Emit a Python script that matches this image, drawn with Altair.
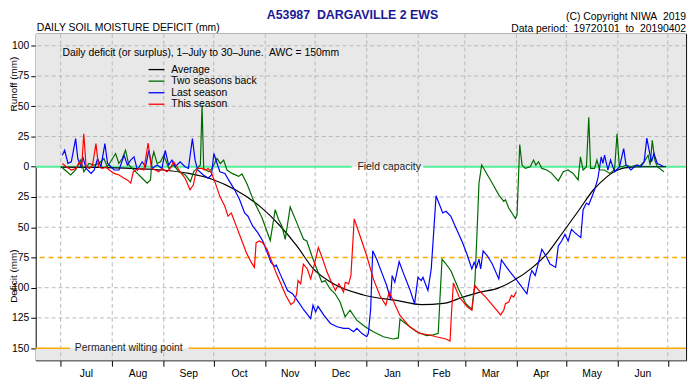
import altair as alt
import pandas as pd

FONT = "Liberation Sans"

# ---------------- data ----------------
month_names = ["Jul", "Aug", "Sep", "Oct", "Nov", "Dec", "Jan", "Feb", "Mar", "Apr", "May", "Jun"]
month_starts = [0, 31, 62, 92, 123, 153, 184, 215, 243, 274, 304, 335, 365]
month_mids = [15.5, 46.5, 77, 107.5, 138, 168.5, 199.5, 229, 258.5, 289, 319.5, 350]
y_ticks = [-100, -75, -50, -25, 0, 25, 50, 75, 100, 125, 150]
grid_levels = [-100, -75, -50, -25, 25, 50, 100, 125]

avg_day = [0, 23, 45, 61, 77, 91, 105, 120, 132, 142, 152, 164, 182, 202, 217, 230,
           242, 251, 263, 273, 283, 293, 301, 311, 321, 327, 333, 339, 350, 364]
avg_val = [0.3, 0.5, 1.5, 2.7, 5.5, 10.3, 19, 33, 49, 65.5, 84.5, 96.8, 106, 110.5, 114, 113,
           107.7, 104, 100.3, 93.5, 84, 71, 56, 37, 18, 10, 4, 1, 0, 0]

two_day = [1, 6, 9, 12, 14, 17, 20, 23, 26, 28, 30, 33, 35, 37, 39, 41, 45, 49, 52, 54, 55, 56,
           58, 60, 62, 65, 68, 71, 75, 78, 80, 82, 84, 85, 86, 89, 91, 94, 96, 98, 100, 103, 107,
           109, 112, 116, 121, 126, 129, 131, 133, 135, 138, 142, 146, 148, 151, 154, 157, 159,
           162, 165, 168, 171, 174, 178, 183, 188, 194, 200, 203, 204, 206, 210, 214, 220, 224,
           227, 228, 229.3, 231.7, 234.6, 239.6, 243.6, 247.2, 249.1, 250.6, 251.5, 253.1, 255.5,
           259.5, 263.4, 266.4, 267.4, 269.4, 273.4, 274.4, 276, 277.4, 279.3, 282.3, 284.3, 285.7,
           287.3, 289.3, 292.3, 295.2, 299.2, 302.2, 305.1, 308.1, 311.1, 312.5, 314.1, 316.1,
           317.5, 318.6, 321, 322.4, 324, 327, 330, 333, 334.5, 335.9, 337.9, 339.9, 342.9, 345.9,
           347.8, 350.8, 353.2, 354.4, 355.7, 357.2, 358.7, 362.7]
two_val = [0.8, 6.8, 2.7, -5.5, 4.1, -2.7, -1.4, -2.7, -6.8, 0, -4.1, -10.9, -2.7, -6.8, -13.6,
           -1.4, 4.1, 9.5, 13.6, 10.9, -6.8, -12.3, -2.7, -4.1, -9.5, 1.4, -1.4, 4.1, 6.8, 12.3,
           4.1, 1.4, -1.4, -51, 1.4, 4.1, 1.4, -6.8, -2.7, -5.5, 2.7, 5.5, 8, 6, 14, 28, 42, 61,
           35.5, 43.6, 49, 60, 33.3, 46.4, 60, 61.4, 73.6, 84.5, 95.5, 94, 101, 105, 111.8, 124,
           118.6, 126.8, 132.3, 136.4, 140.5, 142.4, 141.5, 126, 128.2, 132.3, 136.4, 139.6, 139,
           137.7, 110, 76.4, 80.4, 86, 102.3, 113.2, 118, 94, 45, 13.6, -1.4, 4.1, 13.6, 23.2,
           28.6, 27.3, 34.1, 42.8, 39.5, -18.3, -1.4, 1.4, 0, -5.5, -1.4, -4.1, 1.4, 2.7, 5.5,
           11.7, 4.1, 2.7, 5.5, 10.9, -8.2, 2.7, 0, -40.9, 1.4, 1.4, -5.5, 2.7, 2.7, 5.5, 2.7,
           -27.3, 0, 0, -1.4, 0, -1.4, 0, -4.1, -9.5, -1.4, -21.8, -5.5, 0, 4.1]

last_day = [1, 2.4, 4.4, 6.4, 9, 10.3, 12.3, 13.3, 15.3, 18.3, 20.2, 22.2, 24.2, 26.6, 28.2, 30.2,
            32.2, 35.1, 38.1, 40.1, 42.1, 44.1, 46.1, 49, 51, 53, 55, 58, 60.9, 62.9, 64.9, 66.9,
            68.9, 71.8, 74.8, 76.8, 79.2, 80.8, 82.4, 85.8, 88.7, 90.7, 92.1, 93.7, 95.7, 98.7,
            101.6, 104.6, 107.6, 110.6, 112.6, 115.5, 118.5, 121.5, 124.5, 126.4, 128.8, 129.6,
            132.4, 136.4, 139.4, 142.3, 146.3, 150.3, 151.7, 153.3, 154.7, 158.2, 162.2, 166.2,
            170.1, 173.1, 176.1, 178.1, 181, 184, 185, 186.4, 187.6, 190, 193, 196, 198.3, 199.3,
            200.9, 203.5, 205.9, 209.8, 212.8, 214.8, 216.8, 217.8, 220.8, 222.8, 225.7, 229.7,
            231.7, 234.6, 237.6, 241.6, 244.6, 247.2, 248.6, 250, 251.5, 252.5, 254, 256.5, 259.5,
            263.4, 265, 267.4, 270.4, 274.4, 280.3, 282.3, 283.3, 285.3, 289.3, 292.3, 294.2,
            297.6, 299.2, 301.2, 303.2, 305.1, 307.1, 309.1, 312.7, 314.1, 316.1, 317.5, 319.1,
            321, 323, 325, 326, 327, 329, 330.6, 333, 336, 338.5, 339.9, 342.9, 344.9, 346.8,
            348.8, 350.8, 352.4, 353.8, 355.2, 356.7, 358.7, 360.7, 362.7]
last_val = [-9.5, -13.6, -2.7, -4.1, -23.2, -6.8, 0, -8.2, 1.4, 5.5, 2.7, -6.8, 0, -19.1, -2.7, 0,
            2.7, 2.7, -9.5, -1.4, -5.5, -8.2, 2.7, -4.1, 0, -13.6, 1.4, -1.4, 1.4, -13.6, -1.4,
            -5.5, 0, -4.1, 0, 1.4, -23.2, -5.5, 2.7, 6.8, 9.5, 6.8, -10.9, -4.1, 4.1, 5.5, 12.3,
            19.1, 27.3, 38.2, 40.9, 49.1, 54.5, 61.4, 72, 79.1, 82.4, 81.3, 90, 102.3, 105, 110.5,
            118.6, 125.5, 114.5, 120, 115.4, 122.7, 129.5, 132.3, 133.6, 133.6, 136.4, 133.6,
            137.7, 140.5, 137.7, 117.3, 69.5, 76.4, 87.3, 98.2, 109.1, 90, 95.5, 78.5, 87.3, 101,
            113.2, 91.4, 94.1, 91.4, 102.3, 84.5, 24, 38.2, 36.8, 40.9, 50.5, 62.7, 73.6, 84.5,
            79.1, 83.2, 76.4, 84.5, 69.5, 73.6, 80.4, 92.7, 76.9, 81.8, 87.3, 94.1, 105, 90, 85.9,
            90, 68.2, 75, 80.4, 83.2, 65.5, 61.4, 55.9, 61.4, 51.8, 54.5, 58.6, 35.5, 30, 31.4,
            25.9, 19.1, 9.5, -8.2, -2.7, -9.5, 2.7, -5.5, 4.1, 0, -15, -1.4, 2.7, 0, -1.4, 0,
            -4.1, -23.7, -13.6, -4.1, -10.9, -2.7, -1.4, 0]

this_day = [1, 3.4, 6.4, 9.3, 11.3, 12.7, 13.9, 15.3, 17.3, 19.2, 21.2, 22.8, 25.2, 27.2, 29.2,
            32.2, 35.1, 38.1, 40.1, 42.1, 43.7, 45.1, 47.1, 50, 52.6, 54.6, 57, 58.9, 60.9, 63.9,
            65.9, 67.9, 69.9, 71.8, 74.8, 77.8, 79.8, 81.2, 82.4, 84.8, 86.8, 88.7, 90.7, 92.7,
            95.7, 98.7, 100.6, 102.6, 105.6, 108.6, 111.6, 114.6, 116.5, 117.5, 119.5, 121.5, 124,
            126.4, 129.4, 132.4, 135.4, 138.4, 140.3, 141.9, 142.7, 144.3, 145.9, 148.3, 150.3,
            151.9, 154.9, 157.2, 160.2, 163.2, 165.2, 167.2, 170.1, 171.1, 173.1, 174.5, 176.5,
            180, 184, 188, 191.9, 195.5, 197.5, 199.9, 203.9, 209.8, 215.8, 221.8, 225.7, 231.7,
            234.1, 234.9, 236.1, 239.6, 244.6, 247.2, 249.1, 251.5, 255.5, 260.5, 264.5, 266.4,
            267.4, 269.4, 271, 272.4, 273.8]
this_val = [-2.7, 0, 2.7, 1.4, -4.1, -1.4, -27.3, 0, 1.4, -1.4, -19.1, 0, 1.4, 0, 2.7, 5.5, 6.8,
            9.5, 10.9, 13.6, 4.1, 2.7, 1.4, 2.7, -19.6, 1.4, 2.7, 4.1, 1.4, 4.1, 1.4, -4.1, 0, 4.1,
            9.5, 19.1, 15, 5.5, 1.4, 1.4, 2.7, 1.4, 5.5, 12.3, 24.5, 32.7, 40.9, 38.2, 49.1, 60,
            70.9, 79.1, 83.2, 62.7, 61.4, 63, 68, 76.4, 87.3, 96.8, 106.4, 114, 111.8, 105, 94.1,
            96.8, 80.5, 84.5, 92.7, 84.5, 66.8, 75, 87.3, 96.8, 102.3, 96.8, 103.6, 95.5, 96.8, 90,
            43.1, 57.3, 73.6, 92.7, 106.4, 114.5, 103.6, 110.5, 122.7, 132.3, 137.7, 139.1, 140.5,
            142.4, 144, 122.7, 96, 107.7, 115.9, 118.6, 98.2, 102.3, 107.7, 115.9, 122.5, 118.6,
            113.2, 111.8, 106.4, 107.7, 103.6]

series_names = ["Average", "Two seasons back", "Last season", "This season"]
series_colors = ["#000000", "#006a00", "#0000ff", "#ff0000"]

# reference lines (deficit values) and label gaps (in days)
fc_x1 = [-15, 218]
fc_x2 = [175, 376]
pwp_x1 = [-15, 77]
pwp_x2 = [5.5, 376]

X_DOMAIN = [-15, 376]
Y_DOMAIN = [-110, 160]

W, H = 657, 330

xs = alt.Scale(domain=X_DOMAIN, nice=False, zero=False)
ys = alt.Scale(domain=Y_DOMAIN, nice=False, zero=False, reverse=True)

x_axis = alt.Axis(values=month_starts, labels=False, tickSize=6, title="", grid=False,
                  domain=False, tickColor="black", tickWidth=1)
y_axis = alt.Axis(values=y_ticks, labelExpr="'' + abs(datum.value)", tickSize=5, labelPadding=2,
                  title="", grid=False, domain=False, tickColor="black", tickWidth=1,
                  labelColor="black", labelFont=FONT, labelFontSize=10.5)


def X(field):
    return alt.X(field, scale=xs, axis=x_axis)


def Y(field):
    return alt.Y(field, scale=ys, axis=y_axis)


# gray regions (runoff above field capacity, below wilting point)
bg = pd.DataFrame({"day": [X_DOMAIN[0], X_DOMAIN[0]], "day2": [X_DOMAIN[1], X_DOMAIN[1]],
                   "D": [Y_DOMAIN[0], 150], "D2": [0, Y_DOMAIN[1]]})
bg_layer = alt.Chart(bg).mark_rect(color="#e8e8e8").encode(
    x=X("day:Q"), x2="day2", y=Y("D:Q"), y2="D2")

grid_style = dict(color="#b8b8b8", strokeDash=[4, 3], strokeWidth=1)
vgrid = alt.Chart(pd.DataFrame({"day": month_starts})).mark_rule(**grid_style).encode(x=X("day:Q"))
hgrid = alt.Chart(pd.DataFrame({"D": grid_levels})).mark_rule(**grid_style).encode(y=Y("D:Q"))

fc_line = alt.Chart(pd.DataFrame({"day": fc_x1, "day2": fc_x2, "D": [0, 0]})).mark_rule(
    color="#55ee99", strokeWidth=2).encode(x=X("day:Q"), x2="day2", y=Y("D:Q"))
awc_half = alt.Chart(pd.DataFrame({"D": [75]})).mark_rule(
    color="#ffaa00", strokeWidth=1.6, strokeDash=[5, 4]).encode(y=Y("D:Q"))
pwp_line = alt.Chart(pd.DataFrame({"day": pwp_x1, "day2": pwp_x2, "D": [150, 150]})).mark_rule(
    color="#ffaa00", strokeWidth=1.6).encode(x=X("day:Q"), x2="day2", y=Y("D:Q"))

fc_label = alt.Chart(pd.DataFrame({"day": [197.5], "D": [0], "t": ["Field capacity"]})).mark_text(
    font=FONT, fontSize=10.5, color="#222222", align="center", baseline="middle").encode(
    x=X("day:Q"), y=Y("D:Q"), text="t:N")
pwp_label = alt.Chart(pd.DataFrame({"day": [8.5], "D": [150], "t": ["Permanent wilting point"]})).mark_text(
    font=FONT, fontSize=10.5, color="#222222", align="left", baseline="middle").encode(
    x=X("day:Q"), y=Y("D:Q"), text="t:N")


def line_layer(days, vals, color, interp="linear"):
    df = pd.DataFrame({"day": days, "D": vals})
    return alt.Chart(df).mark_line(color=color, strokeWidth=1.2, interpolate=interp).encode(
        x=X("day:Q"), y=Y("D:Q"), order="day:Q")


avg_layer = line_layer(avg_day, avg_val, series_colors[0], "monotone")
two_layer = line_layer(two_day, two_val, series_colors[1])
last_layer = line_layer(last_day, last_val, series_colors[2])
this_layer = line_layer(this_day, this_val, series_colors[3])

months = alt.Chart(pd.DataFrame({"day": month_mids, "m": month_names})).mark_text(
    font=FONT, fontSize=10.5, color="black", baseline="middle").encode(
    x=X("day:Q"), y=alt.value(H + 14), text="m:N")


def text_at(t, px, py, align="left", size=10.5, weight="normal", color="black", angle=0):
    return alt.Chart(pd.DataFrame({"t": [t]})).mark_text(
        font=FONT, fontSize=size, fontWeight=weight, color=color, align=align,
        baseline="middle", angle=angle).encode(x=alt.value(px), y=alt.value(py), text="t:N")


texts = [
    text_at("A53987\u00a0 DARGAVILLE 2 EWS", 320, -18.5, "center", 12.5, "bold", "#1a1a99"),
    text_at("DAILY SOIL MOISTURE DEFICIT (mm)", 1, -6),
    text_at("(C) Copyright NIWA\u00a0 2019", W, -17, "right"),
    text_at("Data period:\u00a0 19720101\u00a0 to\u00a0 20190402", W, -5, "right"),
    text_at("Daily deficit (or surplus), 1\u2013July to 30\u2013June.\u00a0 AWC = 150mm", 27, 20),
    text_at("Runoff (mm)", -21.5, 51, "center", size=10, angle=270),
    text_at("Deficit (mm)", -21.5, 245, "center", size=10, angle=270),
]

legend_rows = [36.3, 48, 59.7, 71.3]
legend_layers = []
for name, col, ry in zip(series_names, series_colors, legend_rows):
    legend_layers.append(
        alt.Chart(pd.DataFrame({"t": [name]})).mark_rule(color=col, strokeWidth=1.3).encode(
            x=alt.value(114), x2=alt.value(130), y=alt.value(ry)))
    legend_layers.append(text_at(name, 137, ry))

chart = alt.layer(
    bg_layer, vgrid, hgrid, awc_half, fc_line, pwp_line, fc_label, pwp_label,
    avg_layer, two_layer, last_layer, this_layer, months, *texts, *legend_layers
).properties(
    width=W, height=H,
    autosize=alt.AutoSizeParams(type="none"),
    padding={"left": 28, "top": 24, "right": 6, "bottom": 20},
).configure_view(stroke="black", strokeWidth=1).configure_axis(
    labelFont=FONT, labelFontSize=10.5, labelColor="black")

chart.save("out.html", embed_options={"renderer": "svg", "actions": False})
